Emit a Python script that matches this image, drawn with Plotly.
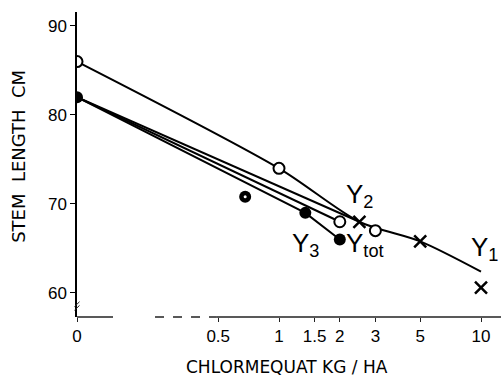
import numpy as np
import plotly.graph_objects as go

# ---------------- data ----------------
ZERO_POS = 0.1  # position where dose "0" is drawn on the log axis

# Y1 fitted curve (open-circle / cross series)
y1_curve_dose = [0, 1, 2.5, 5, 10]
y1_curve_len = [86, 74, 68, 65.8, 62.4]

# Y2 line
y2_dose = [0, 2.5]
y2_len = [82, 68]

# line to open circle at 2
yopen2_dose = [0, 2]
yopen2_len = [82, 68]

# Y3 / Ytot line
ytot_dose = [0, 1.35, 2]
ytot_len = [82, 69, 66]

# observed points
open_dose = [0, 1, 2, 3]
open_len = [86, 74, 68, 67]
filled_dose = [0, 1.35, 2]
filled_len = [82, 69, 66]
dotted_dose = [0.68]
dotted_len = [70.8]
cross_dose = [2.5, 5, 10]
cross_len = [68, 65.8, 60.6]

x_tick_vals = [0, 0.5, 1, 1.5, 2, 3, 5, 10]
x_tick_text = ["0", "0.5", "1", "1.5", "2", "3", "5", "10"]
y_tick_vals = [60, 70, 80, 90]


def pos(d):
    return [ZERO_POS if v == 0 else v for v in d]


def lg(v):
    return float(np.log10(ZERO_POS if v == 0 else v))


fig = go.Figure()
line_style = dict(color="black", width=2)

fig.add_trace(go.Scatter(x=pos(y1_curve_dose), y=y1_curve_len, mode="lines",
                         line=dict(color="black", width=2, shape="spline", smoothing=0.8)))
fig.add_trace(go.Scatter(x=pos(y2_dose), y=y2_len, mode="lines", line=line_style))
fig.add_trace(go.Scatter(x=pos(yopen2_dose), y=yopen2_len, mode="lines", line=line_style))
fig.add_trace(go.Scatter(x=pos(ytot_dose), y=ytot_len, mode="lines", line=line_style))

fig.add_trace(go.Scatter(x=pos(open_dose), y=open_len, mode="markers",
                         marker=dict(symbol="circle", size=11, color="white",
                                     line=dict(color="black", width=2))))
fig.add_trace(go.Scatter(x=pos(filled_dose), y=filled_len, mode="markers",
                         marker=dict(symbol="circle", size=12, color="black")))
fig.add_trace(go.Scatter(x=pos(dotted_dose), y=dotted_len, mode="markers",
                         marker=dict(symbol="circle", size=12, color="black")))
fig.add_trace(go.Scatter(x=pos(dotted_dose), y=dotted_len, mode="markers",
                         marker=dict(symbol="circle", size=3, color="white")))
fig.add_trace(go.Scatter(x=pos(cross_dose), y=cross_len, mode="markers",
                         marker=dict(symbol="x-thin", size=12,
                                     line=dict(color="black", width=2.5))))

lab_font = dict(family="Liberation Sans, Arial", size=26, color="black")
annos = [
    dict(x=lg(2.49), y=71.0, text="Y<sub>2</sub>"),
    dict(x=lg(1.36), y=65.4, text="Y<sub>3</sub>"),
    dict(x=lg(2.67), y=65.4, text="Y<sub>tot</sub>"),
    dict(x=lg(10.4), y=65.0, text="Y<sub>1</sub>"),
]
for a in annos:
    fig.add_annotation(xref="x", yref="y", showarrow=False, font=lab_font,
                       xanchor="center", yanchor="middle", **a)

title_font = dict(family="DejaVu Sans", size=17, color="black")
fig.add_annotation(xref="paper", yref="paper", x=0.495, y=-0.163, showarrow=False,
                   text="CHLORMEQUAT KG / HA", font=title_font,
                   xanchor="center", yanchor="middle")
fig.add_annotation(xref="paper", yref="paper", x=-0.137, y=0.528, showarrow=False,
                   text="STEM\u00a0\u00a0LENGTH\u00a0\u00a0CM",
                   font=dict(family="DejaVu Sans", size=18, color="black"), textangle=-90,
                   xanchor="center", yanchor="middle")

# x axis line drawn with a break, y-axis break marks
axis_col = "#222"
fig.add_shape(type="line", xref="x domain", yref="y domain", x0=0, x1=0.085, y0=0, y1=0,
              line=dict(color=axis_col, width=1.5))
fig.add_shape(type="line", xref="x domain", yref="y domain", x0=0.184, x1=0.33, y0=0, y1=0,
              line=dict(color=axis_col, width=1.5, dash="dash"))
fig.add_shape(type="line", xref="x domain", yref="y domain", x0=0.33, x1=1, y0=0, y1=0,
              line=dict(color=axis_col, width=1.5))
for dy in (0.030, 0.042):
    fig.add_shape(type="line", xref="x domain", yref="y domain", x0=-0.006, x1=0.006,
                  y0=dy - 0.008, y1=dy + 0.008, line=dict(color=axis_col, width=1))

fig.update_layout(
    width=501, height=377,
    margin=dict(l=77, r=0, t=12, b=60),
    paper_bgcolor="white", plot_bgcolor="white",
    showlegend=False,
    font=dict(family="Liberation Sans, Arial", size=17, color="black"),
)
fig.update_xaxes(type="log", range=[-1.0, 1.099],
                 tickvals=pos(x_tick_vals), ticktext=x_tick_text,
                 ticks="outside", ticklen=4, tickcolor=axis_col, tickwidth=1,
                 showline=False, showgrid=False, zeroline=False, automargin=False,
                 tickfont=dict(family="Liberation Sans, Arial", size=17))
fig.update_yaxes(range=[57.3, 91.57], tickvals=y_tick_vals,
                 ticks="outside", ticklen=5, tickcolor="black", tickwidth=1,
                 showline=True, linecolor="black", linewidth=1.5,
                 showgrid=False, zeroline=False, automargin=False,
                 tickfont=dict(family="Liberation Sans, Arial", size=17))

fig.write_html("out.html", config={"displayModeBar": False},
               post_script="document.body.style.margin='0';")
